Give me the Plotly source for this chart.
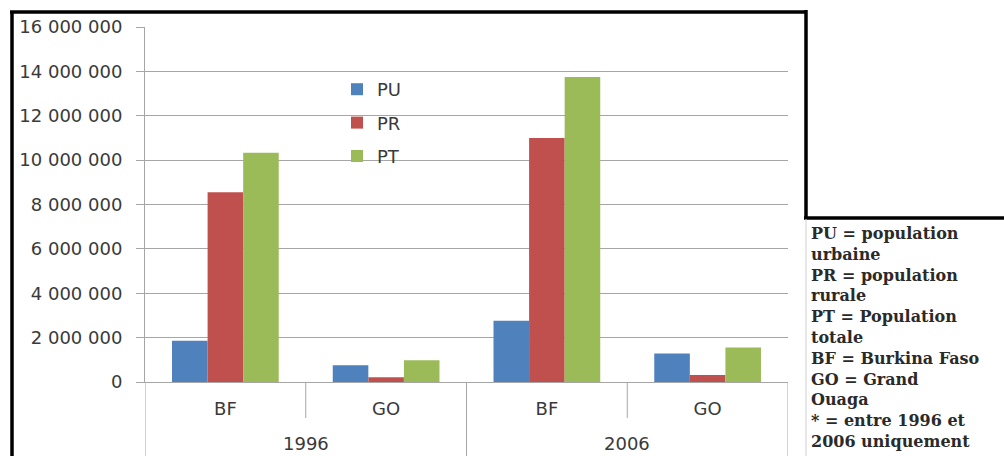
import plotly.graph_objects as go

# Population figures (inhabitants)
years = ["1996", "1996", "2006", "2006"]
zones = ["BF", "GO", "BF", "GO"]
pu = [1_860_000, 760_000, 2_760_000, 1_280_000]
pr = [8_550_000, 210_000, 11_000_000, 320_000]
pt = [10_330_000, 980_000, 13_750_000, 1_560_000]

series_names = ["PU", "PR", "PT"]
series_values = [pu, pr, pt]
series_colors = ["#4F81BD", "#C0504D", "#9BBB59"]

y_ticks = [0, 2_000_000, 4_000_000, 6_000_000, 8_000_000,
           10_000_000, 12_000_000, 14_000_000, 16_000_000]

notes = [
    "PU = population", "urbaine",
    "PR = population", "rurale",
    "PT = Population", "totale",
    "BF = Burkina Faso",
    "GO = Grand", "Ouaga",
    "* = entre 1996 et", "2006 uniquement",
]

W, H = 1004, 456
ML, MR, MT, MB = 145, 216, 27, 74
PW, PH = W - ML - MR, H - MT - MB


def px(x):
    return (x - ML) / PW


def py(y):
    return (H - MB - y) / PH


idx = list(range(len(zones)))

fig = go.Figure()
for name, vals, col in zip(series_names, series_values, series_colors):
    fig.add_trace(go.Bar(
        x=idx, y=vals, name=name, marker_color=col,
        marker_line_width=0, legendgroup=name,
    ))

grid = "#A6A6A6"
label_col = "#3a3a3a"
sans = "DejaVu Sans"

fig.update_layout(
    width=W, height=H,
    margin=dict(l=ML, r=MR, t=MT, b=MB, pad=0),
    paper_bgcolor="white", plot_bgcolor="white",
    barmode="group", bargap=0.336, bargroupgap=0,
    separators=". ",
    font=dict(family=sans, color=label_col),
    legend=dict(
        x=px(337), y=py(71), xanchor="left", yanchor="top",
        bgcolor="rgba(0,0,0,0)", font=dict(size=18, color=label_col),
        tracegroupgap=7, itemwidth=30,
    ),
    showlegend=True,
)
fig.update_yaxes(
    range=[0, 16_000_000], tickvals=y_ticks, tickformat=",d",
    showgrid=True, gridcolor=grid, gridwidth=1,
    ticks="outside", ticklen=8, tickcolor=grid,
    showline=True, linecolor=grid, linewidth=1,
    tickfont=dict(size=18, color=label_col), ticklabelstandoff=10,
    zeroline=False,
)
fig.update_xaxes(
    range=[-0.5, len(zones) - 0.5], tickvals=idx, ticktext=zones,
    showline=True, linecolor=grid, linewidth=1, ticks="",
    showgrid=False, zeroline=False,
    tickfont=dict(size=18, color=label_col), ticklabelstandoff=10,
)

# Year labels centred under their groups, plus category dividers
divider = dict(color=grid, width=1)
for yr in dict.fromkeys(years):
    pos = [i for i, y in enumerate(years) if y == yr]
    fig.add_annotation(
        x=sum(pos) / len(pos), xref="x", y=py(443), yref="paper",
        text=yr, showarrow=False, yanchor="middle",
        font=dict(family=sans, size=18, color=label_col),
    )
for i in range(len(zones) + 1):
    b = i - 0.5
    outer = i in (0, len(zones)) or years[i] != years[i - 1]
    fig.add_shape(type="line", xref="x", yref="paper", x0=b, x1=b,
                  y0=0, y1=py(H + 2) if outer else py(418), line=divider)

# Frame around the chart and the notes panel
black = dict(color="black", width=3.5)
fig.add_shape(type="line", xref="paper", yref="paper",
              x0=px(12), x1=px(12), y0=py(11), y1=py(H + 2), line=black)
fig.add_shape(type="line", xref="paper", yref="paper",
              x0=px(10), x1=px(806), y0=py(12), y1=py(12), line=black)
fig.add_shape(type="line", xref="paper", yref="paper",
              x0=px(806), x1=px(806), y0=py(10), y1=py(219), line=black)
fig.add_shape(type="line", xref="paper", yref="paper",
              x0=px(804), x1=px(W + 2), y0=py(218), y1=py(218), line=black)
fig.add_shape(type="line", xref="paper", yref="paper",
              x0=px(806), x1=px(806), y0=py(219), y1=py(H + 2),
              line=dict(color="#D0D0D0", width=1))

# Notes panel
fig.add_annotation(
    xref="paper", yref="paper", x=px(809), y=py(222),
    xanchor="left", yanchor="top", align="left", showarrow=False,
    text="<br>".join(notes),
    font=dict(family="DejaVu Serif", size=16, color="#2a2a2a", weight="bold"),
)

fig.write_html("out.html")
